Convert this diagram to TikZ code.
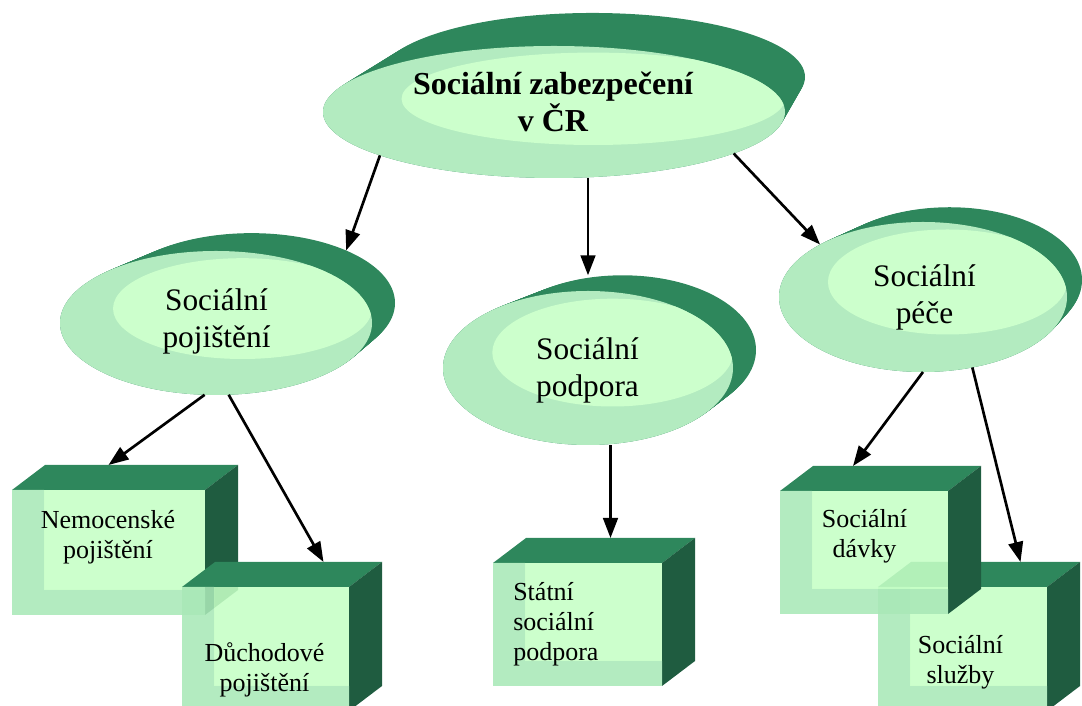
\documentclass[tikz,border=0pt]{standalone}
\usepackage{fontspec}
\setmainfont{Liberation Serif}
\usetikzlibrary{arrows.meta,calc,shapes.geometric}

\definecolor{rimgreen}{RGB}{46,135,92}
\definecolor{sidegreen}{RGB}{31,92,64}
\definecolor{facegreen}{RGB}{179,235,192}
\definecolor{lightgreen}{RGB}{204,255,204}
% box faces are a little see-through
\definecolor{boxlight}{RGB}{197,255,197}
\definecolor{boxbevel}{RGB}{169,232,183}

\tikzset{
    link/.style={line width=2pt, -{Triangle[length=15pt,width=11pt]}},
    titletext/.style={font=\fontsize{24}{27.75}\selectfont\bfseries, align=center, inner sep=0pt},
    ovaltext/.style={font=\fontsize{23.5}{27.75}\selectfont, align=center, inner sep=0pt},
    boxtext/.style={font=\fontsize{19.5}{22.5}\selectfont, align=center, inner sep=0pt},
    shapenode/.style={inner sep=0pt, outer sep=0pt}
}

% oval with a dark rim behind it: name, cx, cy, rx, ry, dx, dy
\newcommand{\ovalnode}[7]{%
    \foreach \s in {0,0.05,...,1} {
        \fill[rimgreen] ({#2+\s*#6+0.08*\s*#4},{#3+\s*#7}) ellipse [x radius={#4*(1-0.08*\s)}, y radius={#5*(1-0.03*\s)}];
    }
    \fill[rimgreen] ({#2+#6+0.08*#4},{#3+#7}) ellipse [x radius={0.92*#4}, y radius={0.97*#5}];
    \fill[facegreen] (#2,#3) ellipse [x radius=#4, y radius=#5];
    \begin{scope}
        \clip (#2,#3) ellipse [x radius=#4, y radius=#5];
        \fill[lightgreen] ({#2+0.17*#4},{#3+0.2*#5}) ellipse [x radius={0.83*#4}, y radius={0.7*#5}];
    \end{scope}
    \node[shapenode, ellipse, minimum width={1.5pt*#4}, minimum height={1.5pt*#5}] (#1) at (#2,#3) {};
    \node[shapenode, ellipse, minimum width={1.38pt*#4}, minimum height={1.455pt*#5}] (#1-b) at ({#2+#6+0.08*#4},{#3+#7}) {};
}

% box: name, left, top, right, bottom
\newcommand{\crate}[5]{%
    \fill[rimgreen] (#2,#3) -- ++(33,25) -- ({#4+33},{#3+25}) -- (#4,#3) -- cycle; % top
    \fill[sidegreen] (#4,#3) -- ++(33,25) -- ({#4+33},{#5+25}) -- (#4,#5) -- cycle; % side
    \fill[boxbevel, fill opacity=0.88] (#2,#3) -- ({#2+32},#3) -- ({#2+32},{#5+25}) -- (#4,{#5+25}) -- (#4,#5) -- (#2,#5) -- cycle;
    \fill[boxlight, fill opacity=0.88] ({#2+32},#3) rectangle (#4,{#5+25});
    \node[shapenode, minimum width={0.75pt*(#4-#2)}, minimum height={0.75pt*(#3-#5)}] (#1) at ({(#2+#4)/2},{(#3+#5)/2}) {};
}

\begin{document}
\begin{tikzpicture}[x=0.75pt, y=0.75pt]
    \useasboundingbox (0,0) rectangle (1082,706);

    % ovals
    \ovalnode{zab}{554}{594}{231}{66}{20}{35}
    \ovalnode{poj}{216}{383}{156}{72}{23}{20}
    \ovalnode{pod}{588}{338}{145}{77}{23}{18}
    \ovalnode{pece}{923}{409}{144}{75}{15}{17}

    % boxes
    \crate{nem}{12}{216}{205}{91}
    \crate{duch}{182}{119}{349}{-5}
    \crate{stat}{493}{143}{662}{20}
    \crate{sluz}{878}{119}{1047}{-5}
    \crate{davky}{780}{215}{948}{92}

    % texts
    \node[titletext] (zab-t) at (553,603.7) {Sociální zabezpečení\\v ČR};
    \node[ovaltext] (poj-t) at (216.5,385) {Sociální\\pojištění};
    \node[ovaltext] (pod-t) at (587.5,335.4) {Sociální\\podpora};
    \node[ovaltext] (pece-t) at (924.5,408.4) {Sociální\\péče};
    \node[boxtext] (nem-t) at (108,169.2) {Nemocenské\\pojištění};
    \node[boxtext] (duch-t) at (264.5,36) {Důchodové\\pojištění};
    \node[boxtext, align=left, anchor=west] (stat-t) at (513,82.2) {Státní\\sociální\\podpora};
    \node[boxtext] (davky-t) at (864.5,169.7) {Sociální\\dávky};
    \node[boxtext] (sluz-t) at (960.5,44.2) {Sociální\\služby};

    % arrows
    \coordinate (stat-top) at ($(stat.north)+(33,25)$);
    \draw[link] (zab.194) -- (poj-b.29);
    \draw[link] (zab.south -| pod) -- (pod-b.north -| pod);
    \draw[link] (zab.347) -- (pece.153);
    \draw[link] (poj.261) -- ($(nem.north)+(0,25)$);
    \draw[link] (poj.280) -- ($(duch.north)+(58,25)$);
    \draw[link] (pod.south -| stat-top) -- (stat-top);
    \draw[link] (pece.south) -- ($(davky.north)+(-11,25)$);
    \draw[link] (pece.305) -- ($(sluz.north)+(58,25)$);
\end{tikzpicture}
\end{document}
